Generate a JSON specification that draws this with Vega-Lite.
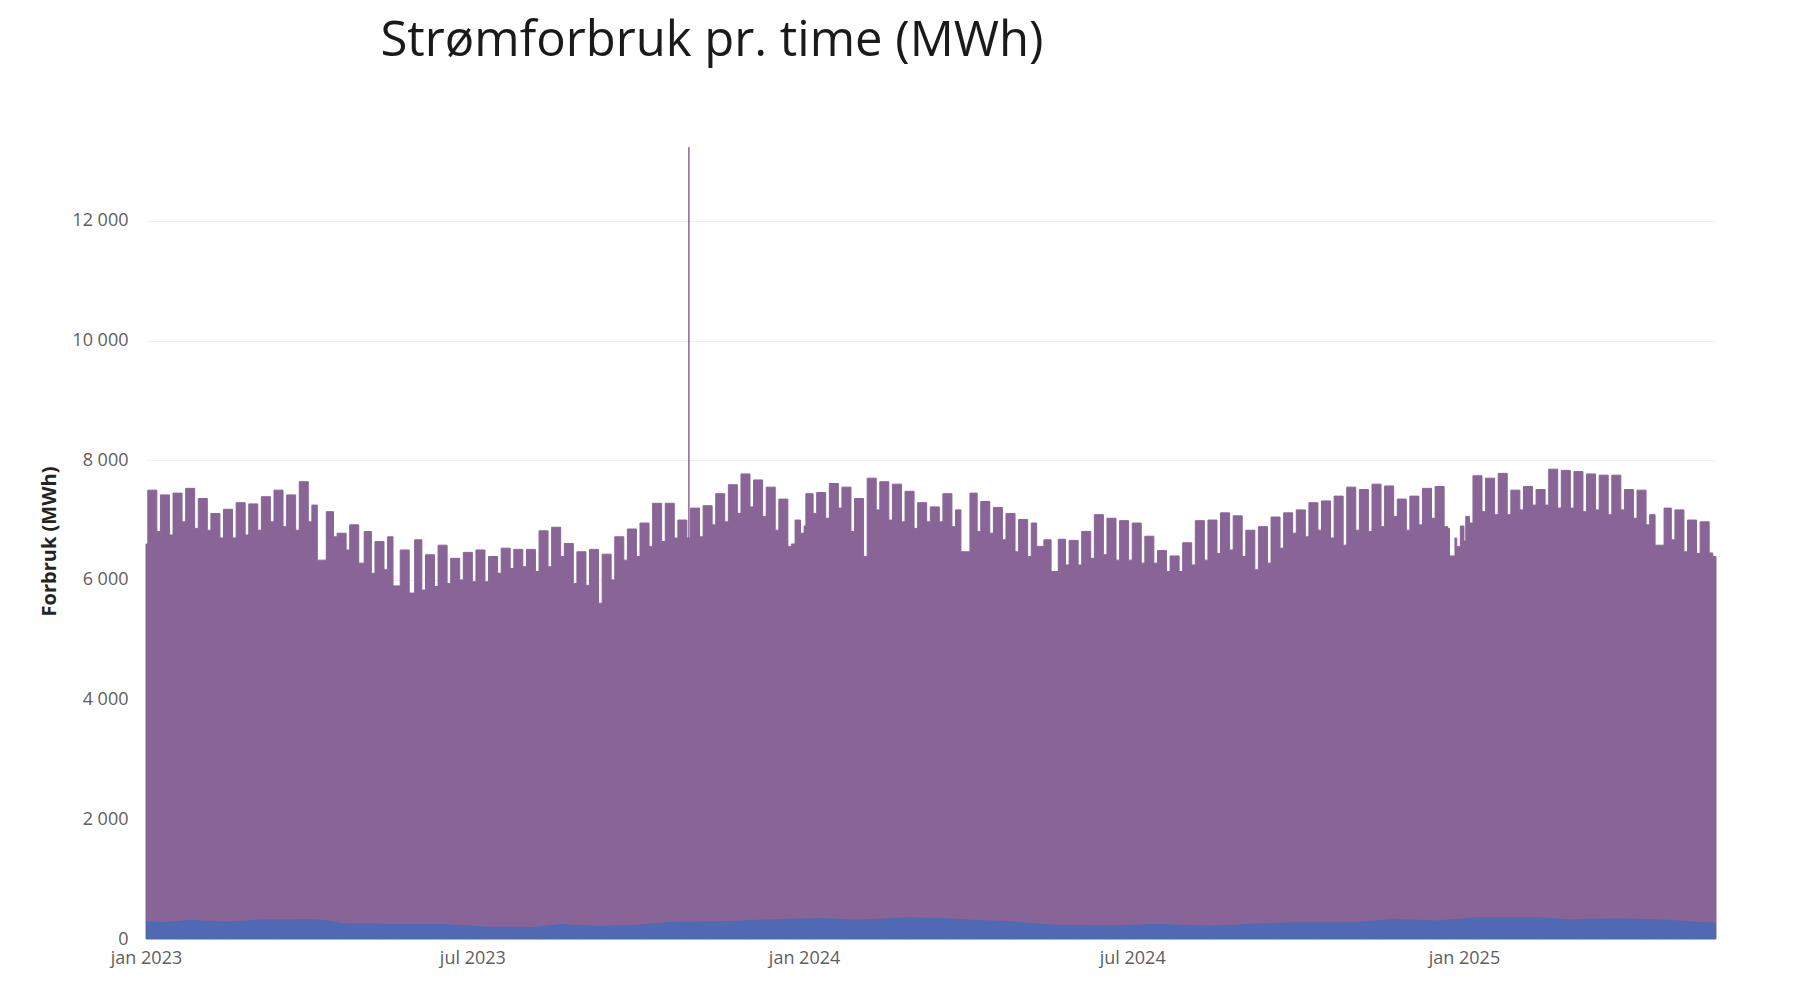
{
  "$schema": "https://vega.github.io/schema/vega-lite/v6.json",
  "width": 1570,
  "height": 796,
  "autosize": {"type": "none"},
  "padding": {"left": 146, "top": 143, "right": 85, "bottom": 43},
  "background": "#ffffff",
  "config": {
    "font": "Open Sans",
    "view": {"stroke": null},
    "locale": {
      "number": {"decimal": ",", "thousands": " ", "grouping": [3], "currency": ["", " kr"]},
      "time": {
        "dateTime": "%A %e. %B %Y kl. %X", "date": "%d.%m.%Y", "time": "%H:%M:%S", "periods": ["AM", "PM"],
        "days": ["søndag", "mandag", "tirsdag", "onsdag", "torsdag", "fredag", "lørdag"],
        "shortDays": ["søn", "man", "tir", "ons", "tor", "fre", "lør"],
        "months": ["januar", "februar", "mars", "april", "mai", "juni", "juli", "august", "september", "oktober", "november", "desember"],
        "shortMonths": ["jan", "feb", "mar", "apr", "mai", "jun", "jul", "aug", "sep", "okt", "nov", "des"]
      }
    }
  },
  "title": {
    "text": "Strømforbruk pr. time (MWh)",
    "font": "Open Sans",
    "fontSize": 49,
    "fontWeight": "normal",
    "color": "#1a1a1a",
    "anchor": "middle",
    "frame": "group",
    "dx": -219,
    "offset": 77
  },
  "datasets": {
    "total": [
      {"d": "2023-01-01", "v": 6600}, {"d": "2023-01-02", "v": 7500}, {"d": "2023-01-07", "v": 6810},
      {"d": "2023-01-09", "v": 7420}, {"d": "2023-01-14", "v": 6750}, {"d": "2023-01-16", "v": 7450},
      {"d": "2023-01-21", "v": 6970}, {"d": "2023-01-23", "v": 7530}, {"d": "2023-01-28", "v": 6860},
      {"d": "2023-01-30", "v": 7360}, {"d": "2023-02-04", "v": 6830}, {"d": "2023-02-06", "v": 7110},
      {"d": "2023-02-11", "v": 6700}, {"d": "2023-02-13", "v": 7180}, {"d": "2023-02-18", "v": 6700},
      {"d": "2023-02-20", "v": 7290}, {"d": "2023-02-25", "v": 6750}, {"d": "2023-02-27", "v": 7270},
      {"d": "2023-03-04", "v": 6830}, {"d": "2023-03-06", "v": 7390}, {"d": "2023-03-11", "v": 6970},
      {"d": "2023-03-13", "v": 7500}, {"d": "2023-03-18", "v": 6890}, {"d": "2023-03-20", "v": 7420},
      {"d": "2023-03-25", "v": 6830}, {"d": "2023-03-27", "v": 7640}, {"d": "2023-04-01", "v": 6970},
      {"d": "2023-04-03", "v": 7250}, {"d": "2023-04-06", "v": 6330}, {"d": "2023-04-11", "v": 7140},
      {"d": "2023-04-15", "v": 6720}, {"d": "2023-04-17", "v": 6780}, {"d": "2023-04-22", "v": 6500},
      {"d": "2023-04-24", "v": 6920}, {"d": "2023-04-29", "v": 6280}, {"d": "2023-05-02", "v": 6810},
      {"d": "2023-05-06", "v": 6110}, {"d": "2023-05-08", "v": 6640}, {"d": "2023-05-13", "v": 6170},
      {"d": "2023-05-15", "v": 6720}, {"d": "2023-05-18", "v": 5900}, {"d": "2023-05-22", "v": 6500},
      {"d": "2023-05-27", "v": 5780}, {"d": "2023-05-30", "v": 6670}, {"d": "2023-06-03", "v": 5830},
      {"d": "2023-06-05", "v": 6420}, {"d": "2023-06-10", "v": 5890}, {"d": "2023-06-12", "v": 6580},
      {"d": "2023-06-17", "v": 5940}, {"d": "2023-06-19", "v": 6360}, {"d": "2023-06-24", "v": 6000},
      {"d": "2023-06-26", "v": 6460}, {"d": "2023-07-01", "v": 5970}, {"d": "2023-07-03", "v": 6500},
      {"d": "2023-07-08", "v": 5970}, {"d": "2023-07-10", "v": 6390}, {"d": "2023-07-15", "v": 6110},
      {"d": "2023-07-17", "v": 6530}, {"d": "2023-07-22", "v": 6190}, {"d": "2023-07-24", "v": 6510},
      {"d": "2023-07-29", "v": 6220}, {"d": "2023-07-31", "v": 6510}, {"d": "2023-08-05", "v": 6140},
      {"d": "2023-08-07", "v": 6820}, {"d": "2023-08-12", "v": 6220}, {"d": "2023-08-14", "v": 6880},
      {"d": "2023-08-19", "v": 6390}, {"d": "2023-08-21", "v": 6610}, {"d": "2023-08-26", "v": 5940},
      {"d": "2023-08-28", "v": 6470}, {"d": "2023-09-02", "v": 5910}, {"d": "2023-09-04", "v": 6510},
      {"d": "2023-09-09", "v": 5610}, {"d": "2023-09-11", "v": 6430}, {"d": "2023-09-16", "v": 6000},
      {"d": "2023-09-18", "v": 6720}, {"d": "2023-09-23", "v": 6330}, {"d": "2023-09-25", "v": 6850},
      {"d": "2023-09-30", "v": 6390}, {"d": "2023-10-02", "v": 6950}, {"d": "2023-10-07", "v": 6560},
      {"d": "2023-10-09", "v": 7280}, {"d": "2023-10-14", "v": 6640}, {"d": "2023-10-16", "v": 7280},
      {"d": "2023-10-21", "v": 6700}, {"d": "2023-10-23", "v": 7000}, {"d": "2023-10-28", "v": 6700},
      {"d": "2023-10-29T02:00:00Z", "v": 13230}, {"d": "2023-10-29T03:00:00Z", "v": 6700},
      {"d": "2023-10-30", "v": 7200}, {"d": "2023-11-04", "v": 6720}, {"d": "2023-11-06", "v": 7240},
      {"d": "2023-11-11", "v": 6920}, {"d": "2023-11-13", "v": 7440}, {"d": "2023-11-18", "v": 6970},
      {"d": "2023-11-20", "v": 7590}, {"d": "2023-11-25", "v": 7110}, {"d": "2023-11-27", "v": 7770},
      {"d": "2023-12-02", "v": 7220}, {"d": "2023-12-04", "v": 7670}, {"d": "2023-12-09", "v": 7060},
      {"d": "2023-12-11", "v": 7550}, {"d": "2023-12-16", "v": 6830}, {"d": "2023-12-18", "v": 7350},
      {"d": "2023-12-23", "v": 6560}, {"d": "2023-12-25", "v": 6600}, {"d": "2023-12-27", "v": 7000},
      {"d": "2023-12-30", "v": 6780}, {"d": "2024-01-01", "v": 6900}, {"d": "2024-01-02", "v": 7440},
      {"d": "2024-01-06", "v": 7110}, {"d": "2024-01-08", "v": 7460}, {"d": "2024-01-13", "v": 7030},
      {"d": "2024-01-15", "v": 7610}, {"d": "2024-01-20", "v": 7200}, {"d": "2024-01-22", "v": 7550},
      {"d": "2024-01-27", "v": 6810}, {"d": "2024-01-29", "v": 7360}, {"d": "2024-02-03", "v": 6390},
      {"d": "2024-02-05", "v": 7700}, {"d": "2024-02-10", "v": 7170}, {"d": "2024-02-12", "v": 7640},
      {"d": "2024-02-17", "v": 7000}, {"d": "2024-02-19", "v": 7600}, {"d": "2024-02-24", "v": 6970},
      {"d": "2024-02-26", "v": 7480}, {"d": "2024-03-02", "v": 6860}, {"d": "2024-03-04", "v": 7290},
      {"d": "2024-03-09", "v": 6970}, {"d": "2024-03-11", "v": 7220}, {"d": "2024-03-16", "v": 6970},
      {"d": "2024-03-18", "v": 7440}, {"d": "2024-03-23", "v": 6890}, {"d": "2024-03-25", "v": 7170},
      {"d": "2024-03-28", "v": 6470}, {"d": "2024-04-02", "v": 7450}, {"d": "2024-04-06", "v": 6810},
      {"d": "2024-04-08", "v": 7310}, {"d": "2024-04-13", "v": 6780}, {"d": "2024-04-15", "v": 7210},
      {"d": "2024-04-20", "v": 6670}, {"d": "2024-04-22", "v": 7110}, {"d": "2024-04-27", "v": 6470},
      {"d": "2024-04-29", "v": 7010}, {"d": "2024-05-04", "v": 6390}, {"d": "2024-05-06", "v": 6950},
      {"d": "2024-05-09", "v": 6560}, {"d": "2024-05-13", "v": 6670}, {"d": "2024-05-17", "v": 6140},
      {"d": "2024-05-21", "v": 6680}, {"d": "2024-05-25", "v": 6250}, {"d": "2024-05-27", "v": 6660},
      {"d": "2024-06-01", "v": 6250}, {"d": "2024-06-03", "v": 6810}, {"d": "2024-06-08", "v": 6360},
      {"d": "2024-06-10", "v": 7090}, {"d": "2024-06-15", "v": 6420}, {"d": "2024-06-17", "v": 7030},
      {"d": "2024-06-22", "v": 6330}, {"d": "2024-06-24", "v": 6990}, {"d": "2024-06-29", "v": 6330},
      {"d": "2024-07-01", "v": 6950}, {"d": "2024-07-06", "v": 6280}, {"d": "2024-07-08", "v": 6730},
      {"d": "2024-07-13", "v": 6280}, {"d": "2024-07-15", "v": 6490}, {"d": "2024-07-20", "v": 6140},
      {"d": "2024-07-22", "v": 6400}, {"d": "2024-07-27", "v": 6140}, {"d": "2024-07-29", "v": 6620},
      {"d": "2024-08-03", "v": 6250}, {"d": "2024-08-05", "v": 6990}, {"d": "2024-08-10", "v": 6330},
      {"d": "2024-08-12", "v": 7000}, {"d": "2024-08-17", "v": 6440}, {"d": "2024-08-19", "v": 7120},
      {"d": "2024-08-24", "v": 6500}, {"d": "2024-08-26", "v": 7070}, {"d": "2024-08-31", "v": 6390},
      {"d": "2024-09-02", "v": 6830}, {"d": "2024-09-07", "v": 6170}, {"d": "2024-09-09", "v": 6890},
      {"d": "2024-09-14", "v": 6280}, {"d": "2024-09-16", "v": 7050}, {"d": "2024-09-21", "v": 6530},
      {"d": "2024-09-23", "v": 7120}, {"d": "2024-09-28", "v": 6780}, {"d": "2024-09-30", "v": 7170},
      {"d": "2024-10-05", "v": 6720}, {"d": "2024-10-07", "v": 7290}, {"d": "2024-10-12", "v": 6830},
      {"d": "2024-10-14", "v": 7320}, {"d": "2024-10-19", "v": 6700}, {"d": "2024-10-21", "v": 7400},
      {"d": "2024-10-26", "v": 6580}, {"d": "2024-10-28", "v": 7550}, {"d": "2024-11-02", "v": 6830},
      {"d": "2024-11-04", "v": 7510}, {"d": "2024-11-09", "v": 6810}, {"d": "2024-11-11", "v": 7600},
      {"d": "2024-11-16", "v": 6890}, {"d": "2024-11-18", "v": 7570}, {"d": "2024-11-23", "v": 7060},
      {"d": "2024-11-25", "v": 7350}, {"d": "2024-11-30", "v": 6830}, {"d": "2024-12-02", "v": 7400},
      {"d": "2024-12-07", "v": 6920}, {"d": "2024-12-09", "v": 7530}, {"d": "2024-12-14", "v": 7030},
      {"d": "2024-12-16", "v": 7560}, {"d": "2024-12-21", "v": 6890}, {"d": "2024-12-23", "v": 6860},
      {"d": "2024-12-24", "v": 6400}, {"d": "2024-12-27", "v": 6700}, {"d": "2024-12-28", "v": 6560},
      {"d": "2024-12-30", "v": 6900}, {"d": "2025-01-01", "v": 6650}, {"d": "2025-01-02", "v": 7060},
      {"d": "2025-01-04", "v": 6950}, {"d": "2025-01-06", "v": 7740}, {"d": "2025-01-11", "v": 7140},
      {"d": "2025-01-13", "v": 7700}, {"d": "2025-01-18", "v": 7090}, {"d": "2025-01-20", "v": 7780},
      {"d": "2025-01-25", "v": 7090}, {"d": "2025-01-27", "v": 7500}, {"d": "2025-02-01", "v": 7170},
      {"d": "2025-02-03", "v": 7560}, {"d": "2025-02-08", "v": 7250}, {"d": "2025-02-10", "v": 7510},
      {"d": "2025-02-15", "v": 7250}, {"d": "2025-02-17", "v": 7850}, {"d": "2025-02-22", "v": 7200},
      {"d": "2025-02-24", "v": 7830}, {"d": "2025-03-01", "v": 7200}, {"d": "2025-03-03", "v": 7810},
      {"d": "2025-03-08", "v": 7140}, {"d": "2025-03-10", "v": 7770}, {"d": "2025-03-15", "v": 7170},
      {"d": "2025-03-17", "v": 7750}, {"d": "2025-03-22", "v": 7090}, {"d": "2025-03-24", "v": 7750},
      {"d": "2025-03-29", "v": 7170}, {"d": "2025-03-31", "v": 7510}, {"d": "2025-04-05", "v": 7030},
      {"d": "2025-04-07", "v": 7500}, {"d": "2025-04-12", "v": 6920}, {"d": "2025-04-14", "v": 7090},
      {"d": "2025-04-17", "v": 6580}, {"d": "2025-04-22", "v": 7200}, {"d": "2025-04-26", "v": 6670},
      {"d": "2025-04-28", "v": 7170}, {"d": "2025-05-03", "v": 6470}, {"d": "2025-05-05", "v": 7000},
      {"d": "2025-05-10", "v": 6440}, {"d": "2025-05-12", "v": 6970}, {"d": "2025-05-17", "v": 6450},
      {"d": "2025-05-19", "v": 6390}, {"d": "2025-05-20T19:00:00Z", "v": 6390}
    ],
    "blue": [
      {"d": "2023-01-01", "b": 295}, {"d": "2023-01-11", "b": 280}, {"d": "2023-01-26", "b": 320},
      {"d": "2023-02-15", "b": 290}, {"d": "2023-03-07", "b": 330}, {"d": "2023-04-06", "b": 335},
      {"d": "2023-04-21", "b": 265}, {"d": "2023-05-21", "b": 250}, {"d": "2023-06-15", "b": 250},
      {"d": "2023-07-10", "b": 205}, {"d": "2023-08-04", "b": 200}, {"d": "2023-08-19", "b": 250},
      {"d": "2023-09-08", "b": 220}, {"d": "2023-09-28", "b": 230}, {"d": "2023-10-18", "b": 285},
      {"d": "2023-11-17", "b": 295}, {"d": "2023-12-12", "b": 330}, {"d": "2024-01-11", "b": 350},
      {"d": "2024-01-31", "b": 320}, {"d": "2024-02-25", "b": 360}, {"d": "2024-03-16", "b": 356},
      {"d": "2024-03-31", "b": 325}, {"d": "2024-04-25", "b": 295}, {"d": "2024-05-20", "b": 240},
      {"d": "2024-06-19", "b": 225}, {"d": "2024-07-14", "b": 255}, {"d": "2024-08-13", "b": 220},
      {"d": "2024-09-02", "b": 250}, {"d": "2024-09-27", "b": 280}, {"d": "2024-11-01", "b": 280},
      {"d": "2024-11-24", "b": 340}, {"d": "2024-12-16", "b": 310}, {"d": "2025-01-10", "b": 365},
      {"d": "2025-02-09", "b": 365}, {"d": "2025-03-01", "b": 330}, {"d": "2025-03-26", "b": 345},
      {"d": "2025-04-25", "b": 320}, {"d": "2025-05-10", "b": 285}, {"d": "2025-05-20T19:00:00Z", "b": 275}
    ]
  },
  "layer": [
    {
      "data": {"name": "total"},
      "mark": {"type": "area", "interpolate": "step-after", "color": "#896497", "stroke": "#896497", "strokeWidth": 1},
      "encoding": {
        "x": {
          "field": "d", "type": "temporal",
          "scale": {"type": "utc", "domain": [{"year": 2023, "month": 1, "date": 1, "utc": true}, {"year": 2025, "month": 5, "date": 20, "hours": 19, "utc": true}]},
          "axis": {
            "title": null, "format": "%b %Y", "domain": false, "ticks": false, "grid": false,
            "labelFlush": false, "labelOverlap": false, "labelFont": "Open Sans", "labelFontSize": 18, "labelColor": "#605E5C", "labelPadding": 10,
            "values": [
              {"year": 2023, "month": 1, "date": 1, "utc": true}, {"year": 2023, "month": 7, "date": 1, "utc": true},
              {"year": 2024, "month": 1, "date": 1, "utc": true}, {"year": 2024, "month": 7, "date": 1, "utc": true},
              {"year": 2025, "month": 1, "date": 1, "utc": true}
            ]
          }
        },
        "y": {
          "field": "v", "type": "quantitative",
          "scale": {"domain": [0, 13300], "nice": false, "zero": true},
          "axis": {
            "title": "Forbruk (MWh)", "titleFont": "Open Sans", "titleFontSize": 20, "titleFontWeight": "bold", "titleColor": "#252423", "titlePadding": 12,
            "format": ",d", "values": [0, 2000, 4000, 6000, 8000, 10000, 12000],
            "domain": false, "ticks": false, "grid": true, "gridColor": "#EEEEEE", "gridWidth": 1,
            "labelFont": "Open Sans", "labelFontSize": 18, "labelColor": "#605E5C", "labelPadding": 18
          }
        }
      }
    },
    {
      "data": {"name": "blue"},
      "mark": {"type": "area", "color": "#5069B3"},
      "encoding": {
        "x": {"field": "d", "type": "temporal"},
        "y": {"field": "b", "type": "quantitative"}
      }
    }
  ]
}
